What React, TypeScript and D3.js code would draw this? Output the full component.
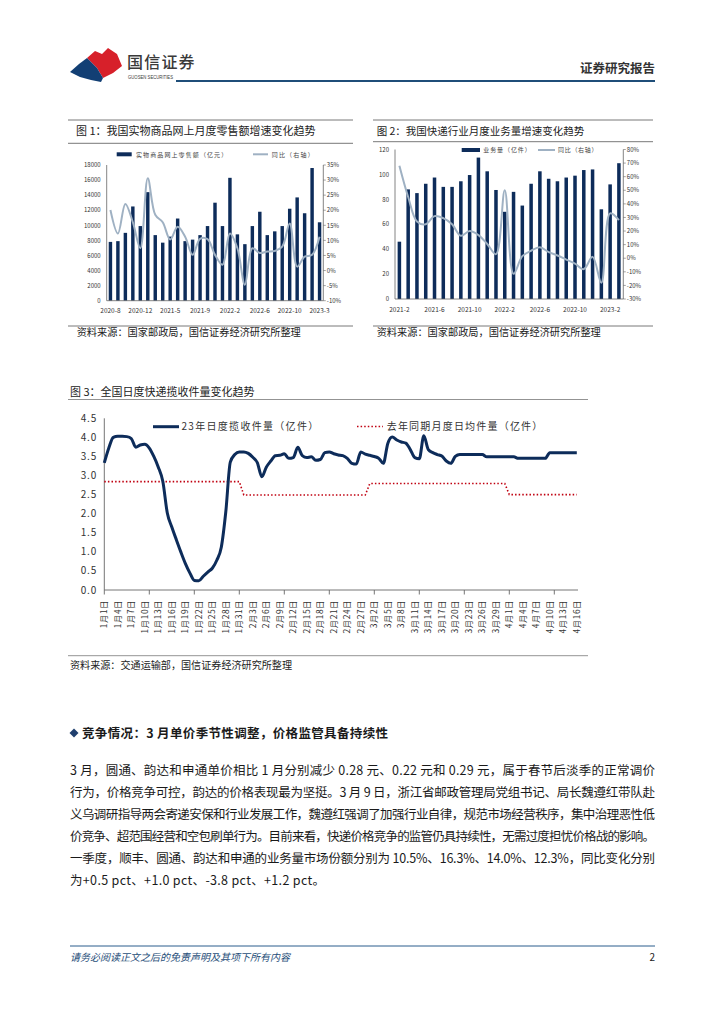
import React from "react";
import * as d3 from "d3";

const FONT = "'Noto Sans CJK SC', 'Noto Sans', sans-serif";
const NAVY = "#0d2c5a";
const GREYLINE = "#9fb1c3";
const AXIS = "#666";
const TXT = "#222";

// ---------- Chart 1 data ----------
const c1Months = ["2020-8","2020-9","2020-10","2020-11","2020-12","2021-2","2021-3","2021-4","2021-5","2021-6","2021-7","2021-8","2021-9","2021-10","2021-11","2021-12","2022-2","2022-3","2022-4","2022-5","2022-6","2022-7","2022-8","2022-9","2022-10","2022-11","2022-12","2023-2","2023-3"];
const c1Sales = [7800,7900,9000,12500,9900,14400,8700,7700,8500,10900,7900,8100,8700,9900,13000,9900,16300,8800,7500,9900,11800,8700,9200,9900,12200,13700,11600,17600,10400];
const c1Yoy = [20.1,12.3,22.1,16,7.4,30.6,18.5,16,10.3,14.5,11.2,5.2,10.5,10.4,5.2,1.9,12.3,7.4,-4.7,7.4,5.8,6.3,6.5,7.9,15.6,1.3,4.6,5.2,11.2];
const c1LeftTicks = [0,2000,4000,6000,8000,10000,12000,14000,16000,18000];
const c1RightTicks = [-10,-5,0,5,10,15,20,25,30,35];

// ---------- Chart 2 data ----------
const c2Months = ["2021-2","2021-3","2021-4","2021-5","2021-6","2021-7","2021-8","2021-9","2021-10","2021-11","2021-12","2022-1","2022-2","2022-3","2022-4","2022-5","2022-6","2022-7","2022-8","2022-9","2022-10","2022-11","2022-12","2023-1","2023-2","2023-3"];
const c2Volume = [46,88,85,92.5,97.5,90,90,94.5,99.5,113.5,102.5,87.5,70,86,75,92.5,102.5,96.5,94.5,97.5,99,103.5,104,72,92,109];
const c2Yoy = [68,45,27,25,31,29.5,25,16.5,20,17,10.5,3,50,-11.5,1.5,5.5,8,4.5,2,-1,-4,-8,1,-18,33,28];
const c2LeftTicks = [0,20,40,60,80,100,120];
const c2RightTicks = [-30,-20,-10,0,10,20,30,40,50,60,70,80];

// ---------- Chart 3 data ----------
const c3MonthDays: [number, number][] = [[1,31],[2,28],[3,31],[4,16]];
const c3Daily = [3.33,3.72,4.00,4.03,4.03,4.02,3.97,3.74,3.80,3.82,3.72,3.50,3.22,2.85,2.02,1.65,1.32,1.00,0.70,0.45,0.25,0.24,0.36,0.47,0.57,0.78,1.12,2.05,3.35,3.55,
3.62,3.62,3.58,3.48,3.34,2.97,3.22,3.38,3.52,3.53,3.57,3.45,3.47,3.74,3.52,3.47,3.49,3.40,3.42,3.60,3.62,3.57,3.54,3.52,3.45,3.32,3.30,3.62,3.56,
3.53,3.50,3.45,3.32,3.84,4.01,3.93,3.88,3.85,3.68,3.47,3.44,4.04,3.68,3.60,3.55,3.51,3.38,3.32,3.50,3.55,3.55,3.55,3.55,3.55,3.55,3.49,3.49,3.49,3.49,3.49,
3.49,3.49,3.45,3.45,3.45,3.45,3.45,3.45,3.45,3.60,3.60,3.60,3.60,3.60,3.60,3.60];
const c3LastYearMonthly = [2.84, 2.49, 2.79, 2.50];
const c3YTicks = [0,0.5,1,1.5,2,2.5,3,3.5,4,4.5];

const bodyLines = [
  "3 月，圆通、韵达和申通单价相比 1 月分别减少 0.28 元、0.22 元和 0.29 元，属于春节后淡季的正常调价",
  "行为，价格竞争可控，韵达的价格表现最为坚挺。3 月 9 日，浙江省邮政管理局党组书记、局长魏遵红带队赴",
  "义乌调研指导两会寄递安保和行业发展工作，魏遵红强调了加强行业自律，规范市场经营秩序，集中治理恶性低",
  "价竞争、超范围经营和空包刷单行为。目前来看，快递价格竞争的监管仍具持续性，无需过度担忧价格战的影响。",
  "一季度，顺丰、圆通、韵达和申通的业务量市场份额分别为 10.5%、16.3%、14.0%、12.3%，同比变化分别",
  "为+0.5 pct、+1.0 pct、-3.8 pct、+1.2 pct。",
];

type BLProps = {
  left: number; right: number; top: number; bottom: number;
  months: string[]; bars: number[]; line: number[];
  leftTicks: number[]; rightTicks: number[];
  leftFmt: (v: number) => string; rightFmt: (v: number) => string;
  labelEvery: number; barRatio: number;
};

function BarLineChart(p: BLProps) {
  const x = d3.scaleBand<string>().domain(p.months).range([p.left, p.right]).paddingInner(1 - p.barRatio).paddingOuter((1 - p.barRatio) / 2);
  const yL = d3.scaleLinear().domain([p.leftTicks[0], p.leftTicks[p.leftTicks.length - 1]]).range([p.bottom, p.top]);
  const yR = d3.scaleLinear().domain([p.rightTicks[0], p.rightTicks[p.rightTicks.length - 1]]).range([p.bottom, p.top]);
  const cx = (m: string) => (x(m) as number) + x.bandwidth() / 2;
  const lineGen = d3.line<number>().x((_, i) => cx(p.months[i])).y((v) => yR(v)).curve(d3.curveCatmullRom.alpha(0.5));
  return (
    <g fontFamily={FONT}>
      {p.bars.map((v, i) => (
        <rect key={i} x={x(p.months[i])} y={yL(v)} width={x.bandwidth()} height={yL(0) - yL(v)} fill={NAVY} />
      ))}
      <path d={lineGen(p.line) || ""} fill="none" stroke={GREYLINE} strokeWidth={2} />
      <line x1={p.left} x2={p.left} y1={p.top} y2={p.bottom} stroke={AXIS} strokeWidth={0.8} />
      <line x1={p.right} x2={p.right} y1={p.top} y2={p.bottom} stroke={AXIS} strokeWidth={0.8} />
      <line x1={p.left} x2={p.right} y1={p.bottom} y2={p.bottom} stroke={AXIS} strokeWidth={0.8} />
      {p.leftTicks.map((t) => (
        <text key={"l" + t} x={p.left - 6} y={yL(t) + 2.2} fontSize={6} textAnchor="end" fill="#333">{p.leftFmt(t)}</text>
      ))}
      {p.rightTicks.map((t) => (
        <g key={"r" + t}>
          <line x1={p.right} x2={p.right + 2.5} y1={yR(t)} y2={yR(t)} stroke={AXIS} strokeWidth={0.6} />
          <text x={p.right + 3.5} y={yR(t) + 2.2} fontSize={6} fill="#333">{p.rightFmt(t)}</text>
        </g>
      ))}
      {p.months.map((m, i) => i % p.labelEvery === 0 ? (
        <text key={m} x={cx(m)} y={p.bottom + 12.5} fontSize={6.5} textAnchor="middle" fill="#333">{m}</text>
      ) : null)}
    </g>
  );
}

function Chart3() {
  const left = 104.3, step = 4.5, bottom = 590, top = 418.3;
  const labels: string[] = [];
  c3MonthDays.forEach(([m, n]) => { for (let d = 1; d <= n; d++) labels.push(`${m}月${d}日`); });
  const monthOf: number[] = [];
  c3MonthDays.forEach(([, n], mi) => { for (let d = 1; d <= n; d++) monthOf.push(mi); });
  const x = d3.scalePoint<string>().domain(labels).range([left, left + step * (labels.length - 1)]);
  const y = d3.scaleLinear().domain([0, 4.5]).range([bottom, top]);
  const blue = d3.line<number>().x((_, i) => x(labels[i]) as number).y((v) => y(v)).curve(d3.curveMonotoneX);
  const redVals = monthOf.map((mi) => c3LastYearMonthly[mi]);
  const red = d3.line<number>().x((_, i) => x(labels[i]) as number).y((v) => y(v));
  return (
    <g fontFamily={FONT}>
      <line x1={left} x2={left} y1={top} y2={bottom} stroke={AXIS} strokeWidth={0.9} />
      <line x1={left} x2={578} y1={bottom} y2={bottom} stroke={AXIS} strokeWidth={0.9} />
      {c3YTicks.map((t) => (
        <text key={t} x={97} y={y(t) + 3.5} fontSize={10} letterSpacing={0.8} textAnchor="end" fill="#333">{d3.format(".1f")(t)}</text>
      ))}
      {labels.map((l, i) => i % 10 === 0 ? (
        <line key={"t" + i} x1={x(l)} x2={x(l)} y1={bottom} y2={bottom + 4.5} stroke={AXIS} strokeWidth={0.9} />
      ) : null)}
      {labels.map((l, i) => i % 3 === 0 ? (
        <text key={l} transform={`translate(${(x(l) as number) + 2.9},${bottom + 10}) rotate(-90)`} fontSize={8.3} letterSpacing={0.6} textAnchor="end" fill="#333">{l}</text>
      ) : null)}
      <path d={red(redVals) || ""} fill="none" stroke="#c00010" strokeWidth={1.6} strokeDasharray="1.5 2.1" />
      <path d={blue(c3Daily) || ""} fill="none" stroke={NAVY} strokeWidth={3} strokeLinejoin="round" />
      {/* legend */}
      <line x1={153} x2={179} y1={426.7} y2={426.7} stroke={NAVY} strokeWidth={3} />
      <text x={181.5} y={430.3} fontSize={10} letterSpacing={1.3} fill="#333">23年日度揽收件量（亿件）</text>
      <line x1={357} x2={383} y1={426.5} y2={426.5} stroke="#c00010" strokeWidth={1.6} strokeDasharray="1.5 2.1" />
      <text x={386.7} y={430} fontSize={10} letterSpacing={1.2} fill="#333">去年同期月度日均件量（亿件）</text>
    </g>
  );
}

export default function App() {
  return (
    <svg width={724} height={1024} viewBox="0 0 724 1024" style={{ position: "absolute", left: 0, top: 0, background: "#fff" }} fontFamily={FONT}>
      <rect width={724} height={1024} fill="#fff" />
      {/* Header */}
      <path d="M87,58 L95,51 L102,54 L108,48 L117,54 L122,66 L113,73 L103,78 L97,68 Z" fill="#d7202a" />
      <path d="M70,72 L79,64 L87,58 L97,68 L103,78 L101,82 L91,80 L80,77 Z" fill="#123f74" />
      <text x={127} y={68} fontSize={16} letterSpacing={1.2} fill="#3a3a3a" fontWeight={500}>国信证券</text>
      <text x={128} y={79} fontSize={5.6} fill="#3a3a3a" fontFamily="'Liberation Sans', Arial, sans-serif" textLength={45} lengthAdjust="spacingAndGlyphs">GUOSEN SECURITIES</text>
      <text x={655} y={73} fontSize={12.5} fontWeight={700} textAnchor="end" fill="#333">证券研究报告</text>
      <line x1={176} x2={655} y1={81} y2={81} stroke="#1f4e79" strokeWidth={2.2} />

      {/* Chart 1 frame */}
      <line x1={68} x2={353} y1={120} y2={120} stroke="#555" strokeWidth={0.8} />
      <text x={76} y={134.5} fontSize={11} fill={TXT}>图 1：我国实物商品网上月度零售额增速变化趋势</text>
      <line x1={68} x2={353} y1={143.3} y2={143.3} stroke="#555" strokeWidth={0.8} />
      <rect x={116.7} y={152.3} width={15} height={4} fill={NAVY} />
      <text x={136} y={156.5} fontSize={6} letterSpacing={1.1} fill="#444">实物商品网上零售额（亿元）</text>
      <line x1={253} x2={268} y1={154.3} y2={154.3} stroke={GREYLINE} strokeWidth={2} />
      <text x={271.7} y={156.5} fontSize={6} letterSpacing={1.2} fill="#444">同比（右轴）</text>
      <BarLineChart left={106.7} right={323.3} top={165} bottom={300.7} months={c1Months} bars={c1Sales} line={c1Yoy}
        leftTicks={c1LeftTicks} rightTicks={c1RightTicks} leftFmt={(v) => String(v)} rightFmt={(v) => v + "%"} labelEvery={4} barRatio={0.46} />
      <line x1={68} x2={353} y1={326} y2={326} stroke="#555" strokeWidth={0.8} />
      <text x={76.7} y={335.8} fontSize={10.2} fill={TXT}>资料来源：国家邮政局，国信证券经济研究所整理</text>

      {/* Chart 2 frame */}
      <line x1={373} x2={653} y1={120} y2={120} stroke="#555" strokeWidth={0.8} />
      <text x={376.7} y={134.5} fontSize={10.5} fill={TXT}>图 2：我国快递行业月度业务量增速变化趋势</text>
      <line x1={373} x2={653} y1={141.7} y2={141.7} stroke="#555" strokeWidth={0.8} />
      <rect x={461.7} y={148} width={18.3} height={4} fill={NAVY} />
      <text x={483.3} y={152.2} fontSize={6} letterSpacing={0.9} fill="#444">业务量（亿件）</text>
      <line x1={538} x2={555} y1={150} y2={150} stroke={GREYLINE} strokeWidth={2} />
      <text x={558} y={152.2} fontSize={6} letterSpacing={0.7} fill="#444">同比（右轴）</text>
      <BarLineChart left={395} right={623.3} top={149.5} bottom={299} months={c2Months} bars={c2Volume} line={c2Yoy}
        leftTicks={c2LeftTicks} rightTicks={c2RightTicks} leftFmt={(v) => String(v)} rightFmt={(v) => v + "%"} labelEvery={4} barRatio={0.4} />
      <line x1={373} x2={653} y1={326} y2={326} stroke="#555" strokeWidth={0.8} />
      <text x={376.7} y={335.8} fontSize={10.2} fill={TXT}>资料来源：国家邮政局，国信证券经济研究所整理</text>

      {/* Chart 3 frame */}
      <text x={70} y={396} fontSize={11} fill={TXT}>图 3：全国日度快递揽收件量变化趋势</text>
      <line x1={68} x2={588} y1={399.5} y2={399.5} stroke="#777" strokeWidth={0.8} />
      <Chart3 />
      <line x1={68} x2={588} y1={655.7} y2={655.7} stroke="#777" strokeWidth={0.8} />
      <text x={70} y={669} fontSize={10.1} fill={TXT}>资料来源：交通运输部，国信证券经济研究所整理</text>

      {/* Section */}
      <path d="M74,728.5 L78.5,733 L74,737.5 L69.5,733 Z" fill="#1f3f6e" />
      <text x={82} y={737.5} fontSize={12.5} fontWeight={700} fill="#1a1a1a" textLength={306} lengthAdjust="spacing">竞争情况：3 月单价季节性调整，价格监管具备持续性</text>
      {bodyLines.map((l, i) => (
        <text key={i} x={70} y={774.5 + i * 22} fontSize={12.5} fill="#1a1a1a"
          textLength={i < 5 ? 585 : 255} lengthAdjust="spacing">{l}</text>
      ))}

      {/* Footer */}
      <line x1={70} x2={655} y1={946} y2={946} stroke="#2b5d8c" strokeWidth={1} />
      <text x={70} y={960.5} fontSize={10} fontStyle="italic" fill="#1f4e79">请务必阅读正文之后的免责声明及其项下所有内容</text>
      <text x={655} y={961} fontSize={10} textAnchor="end" fill="#222">2</text>
    </svg>
  );
}
